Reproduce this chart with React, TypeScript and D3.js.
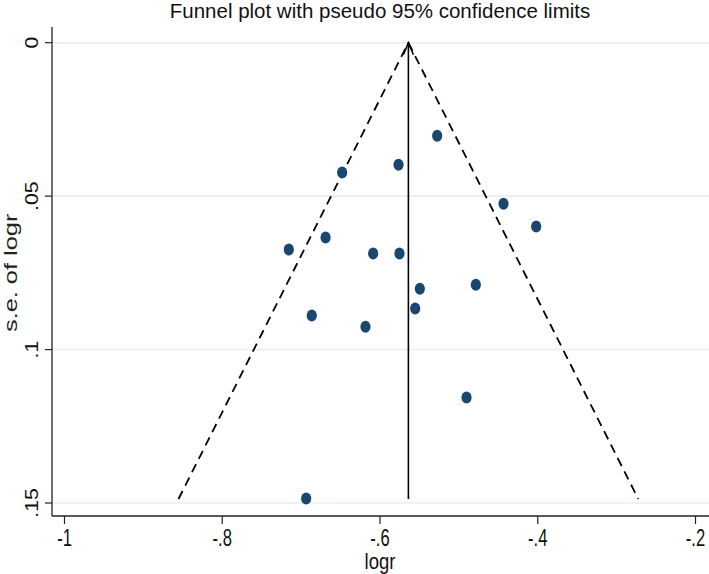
import * as d3 from 'd3'

const W = 709
const H = 574

// study estimates: log ratio and its standard error
const logr = [-0.5275, -0.5765, -0.648, -0.4434, -0.402, -0.669, -0.7156, -0.6087, -0.5753, -0.5495, -0.4785, -0.5554, -0.6865, -0.6184, -0.4903, -0.6936]
const se = [0.0303, 0.0398, 0.0423, 0.0525, 0.0599, 0.0635, 0.0674, 0.0687, 0.0687, 0.0802, 0.0789, 0.0866, 0.0889, 0.0926, 0.1156, 0.1485]

const pooled = -0.564
const seMax = 0.1487

const xTicks = [-1, -0.8, -0.6, -0.4, -0.2]
const xTickLabels = ['-1', '-.8', '-.6', '-.4', '-.2']
const yTicks = [0, 0.05, 0.1, 0.15]
const yTickLabels = ['0', '.05', '.1', '.15']

const FONT = 'Liberation Sans, Arial, sans-serif'

export default function App() {
  const plot = { left: 52, right: 709, top: 27, bottom: 516 }

  const x = d3.scaleLinear().domain([-1, -0.2]).range([64.5, 695.5])
  const y = d3.scaleLinear().domain([0, 0.15]).range([42.7, 503])

  const line = d3.line<[number, number]>().x(d => x(d[0])).y(d => y(d[1]))
  const leftLimit: [number, number][] = [[pooled - 1.96 * seMax, seMax], [pooled, 0]]
  const rightLimit: [number, number][] = [[pooled, 0], [pooled + 1.96 * seMax, seMax]]

  const ax = x(pooled)
  const ay = y(0)

  return (
    <svg width={W} height={H} style={{ position: 'absolute', left: 0, top: 0, background: '#fff' }}>
      <text x={380} y={17.5} textAnchor="middle" fontFamily={FONT} fontSize={20.5} fill="#111">
        Funnel plot with pseudo 95% confidence limits
      </text>

      {/* gridlines */}
      {yTicks.map(t => (
        <line key={'g' + t} x1={plot.left} x2={plot.right} y1={y(t)} y2={y(t)} stroke="#E6EFF0" strokeWidth={1.6} />
      ))}

      {/* confidence limits */}
      <path d={line(leftLimit) || ''} fill="none" stroke="#000" strokeWidth={1.8} strokeDasharray="9,6" />
      <path d={line(rightLimit) || ''} fill="none" stroke="#000" strokeWidth={1.8} strokeDasharray="9,6" />

      {/* pooled estimate */}
      <line x1={ax} x2={ax} y1={y(seMax)} y2={ay} stroke="#000" strokeWidth={1.6} />
      <path d={`M${ax - 5},${ay + 12}L${ax},${ay}L${ax + 5},${ay + 12}`} fill="none" stroke="#000" strokeWidth={1.5} />

      {/* studies */}
      {logr.map((v, i) => (
        <ellipse key={i} cx={x(v)} cy={y(se[i])} rx={5.1} ry={6} fill="#1A476F" />
      ))}

      {/* axes */}
      <line x1={plot.left} x2={plot.left} y1={plot.top} y2={plot.bottom} stroke="#222" strokeWidth={1.3} />
      <line x1={plot.left} x2={plot.right} y1={plot.bottom} y2={plot.bottom} stroke="#222" strokeWidth={1.3} />

      {yTicks.map((t, i) => (
        <g key={'y' + t}>
          <line x1={plot.left - 7} x2={plot.left} y1={y(t)} y2={y(t)} stroke="#222" strokeWidth={1.2} />
          <text
            transform={`translate(38,${y(t)}) rotate(-90) scale(1.15,1)`}
            textAnchor="middle"
            fontFamily={FONT}
            fontSize={18.5}
            fill="#111"
          >
            {yTickLabels[i]}
          </text>
        </g>
      ))}
      <text
        transform={`translate(17,${(y(0) + y(0.15)) / 2}) rotate(-90) scale(1.45,1)`}
        textAnchor="middle"
        fontFamily={FONT}
        fontSize={17.5}
        fill="#222"
      >
        s.e. of logr
      </text>

      {xTicks.map((t, i) => (
        <g key={'x' + t}>
          <line x1={x(t)} x2={x(t)} y1={plot.bottom} y2={plot.bottom + 8} stroke="#222" strokeWidth={1.2} />
          <text
            transform={`translate(${x(t)},546) scale(0.92,1.3)`}
            textAnchor="middle"
            fontFamily={FONT}
            fontSize={18}
            fill="#111"
          >
            {xTickLabels[i]}
          </text>
        </g>
      ))}
      <text
        transform={`translate(380,569) scale(1,1.2)`}
        textAnchor="middle"
        fontFamily={FONT}
        fontSize={18.5}
        fill="#111"
      >
        logr
      </text>
    </svg>
  )
}
